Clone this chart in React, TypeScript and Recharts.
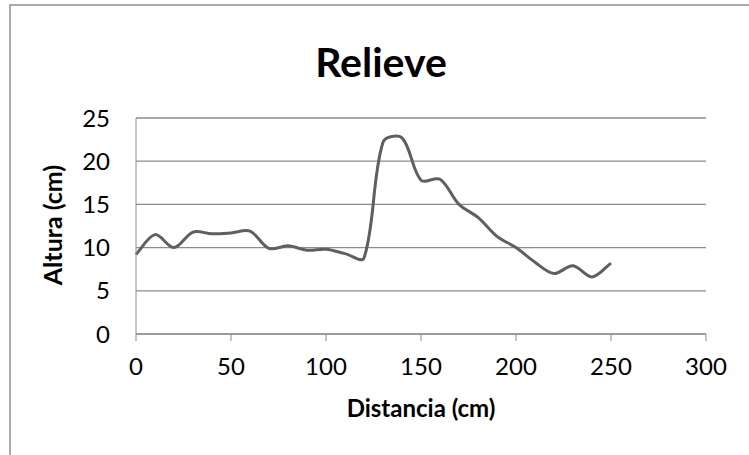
import React from 'react';
import { LineChart, Line, XAxis, YAxis, CartesianGrid } from 'recharts';

// distancia (cm) y altura (cm)
const distancia = [0, 10, 20, 30, 40, 50, 60, 70, 80, 90, 100, 110, 120, 130, 140, 150, 160, 170, 180, 190, 200, 210, 220, 230, 240, 250];
const altura = [9.2, 11.5, 10.0, 11.8, 11.6, 11.7, 11.9, 9.9, 10.2, 9.7, 9.8, 9.3, 8.8, 22.2, 22.7, 17.8, 17.9, 15.0, 13.5, 11.3, 10.0, 8.3, 7.0, 7.9, 6.6, 8.2];
const xTicks = [0, 50, 100, 150, 200, 250, 300];
const yTicks = [0, 5, 10, 15, 20, 25];

const data = distancia.map((d, i) => ({ x: d, y: altura[i] }));

const FONT = 'Lato, "Open Sans", sans-serif';
const GRAY = '#8c8c8c';

// smoothed line like Excel's: bezier, control points scaled by segment length
const smoothCurve = (context: any) => {
  let pts: number[][] = [];
  return {
    areaStart() {},
    areaEnd() {},
    lineStart() {
      pts = [];
    },
    point(x: number, y: number) {
      pts.push([+x, +y]);
    },
    lineEnd() {
      const n = pts.length;
      if (!n) return;
      context.moveTo(pts[0][0], pts[0][1]);
      const dist = (a: number[], b: number[]) => Math.hypot(a[0] - b[0], a[1] - b[1]);
      for (let i = 0; i < n - 1; i++) {
        const p0 = pts[Math.max(i - 1, 0)];
        const p1 = pts[i];
        const p2 = pts[i + 1];
        const p3 = pts[Math.min(i + 2, n - 1)];
        const d01 = dist(p0, p1);
        const d12 = dist(p1, p2);
        const d23 = dist(p2, p3);
        const f1 = d01 + d12 > 0 ? d12 / (3 * (d01 + d12)) : 0;
        const f2 = d12 + d23 > 0 ? d12 / (3 * (d12 + d23)) : 0;
        context.bezierCurveTo(
          p1[0] + (p2[0] - p0[0]) * f1,
          p1[1] + (p2[1] - p0[1]) * f1,
          p2[0] - (p3[0] - p1[0]) * f2,
          p2[1] - (p3[1] - p1[1]) * f2,
          p2[0],
          p2[1]
        );
      }
    },
  };
};

export default function App() {
  return (
    <div style={{ position: 'absolute', left: 0, top: 0, width: 749, height: 455, overflow: 'hidden', background: '#fff' }}>
      <div
        style={{
          position: 'absolute',
          left: 9,
          top: 4,
          width: 800,
          height: 500,
          borderTop: '2px solid #ababab',
          borderLeft: '2px solid #ababab',
        }}
      />
      <LineChart
        width={749}
        height={455}
        data={data}
        margin={{ top: 118, right: 43, bottom: 0, left: 0 }}
        style={{ position: 'absolute', left: 0, top: 0 }}
      >
        <CartesianGrid vertical={false} stroke={GRAY} strokeWidth={1.3} />
        <XAxis
          type="number"
          dataKey="x"
          domain={[0, 300]}
          ticks={xTicks}
          height={121}
          stroke={GRAY}
          tickSize={7}
          tickMargin={17}
          tick={{ fill: '#000', fontSize: 24, fontFamily: FONT }}
        />
        <YAxis
          type="number"
          domain={[0, 25]}
          ticks={yTicks}
          width={136}
          stroke={GRAY}
          tickLine={false}
          tickSize={0}
          tickMargin={26}
          tick={{ fill: '#000', fontSize: 24, fontFamily: FONT }}
        />
        <Line
          type={smoothCurve as any}
          dataKey="y"
          stroke="#5f5f5f"
          strokeWidth={3}
          dot={false}
          isAnimationActive={false}
        />
      </LineChart>
      <svg width={749} height={455} style={{ position: 'absolute', left: 0, top: 0, pointerEvents: 'none' }}>
        <text x={381} y={77} textAnchor="middle" fontFamily={FONT} fontWeight="bold" fontSize={41} fill="#000">
          Relieve
        </text>
        <text x={421} y={417} textAnchor="middle" fontFamily={FONT} fontWeight="bold" fontSize={24} fill="#000">
          Distancia (cm)
        </text>
        <text
          x={0}
          y={0}
          transform="translate(62,225) rotate(-90)"
          textAnchor="middle"
          fontFamily={FONT}
          fontWeight="bold"
          fontSize={25}
          fill="#000"
        >
          Altura (cm)
        </text>
      </svg>
    </div>
  );
}
